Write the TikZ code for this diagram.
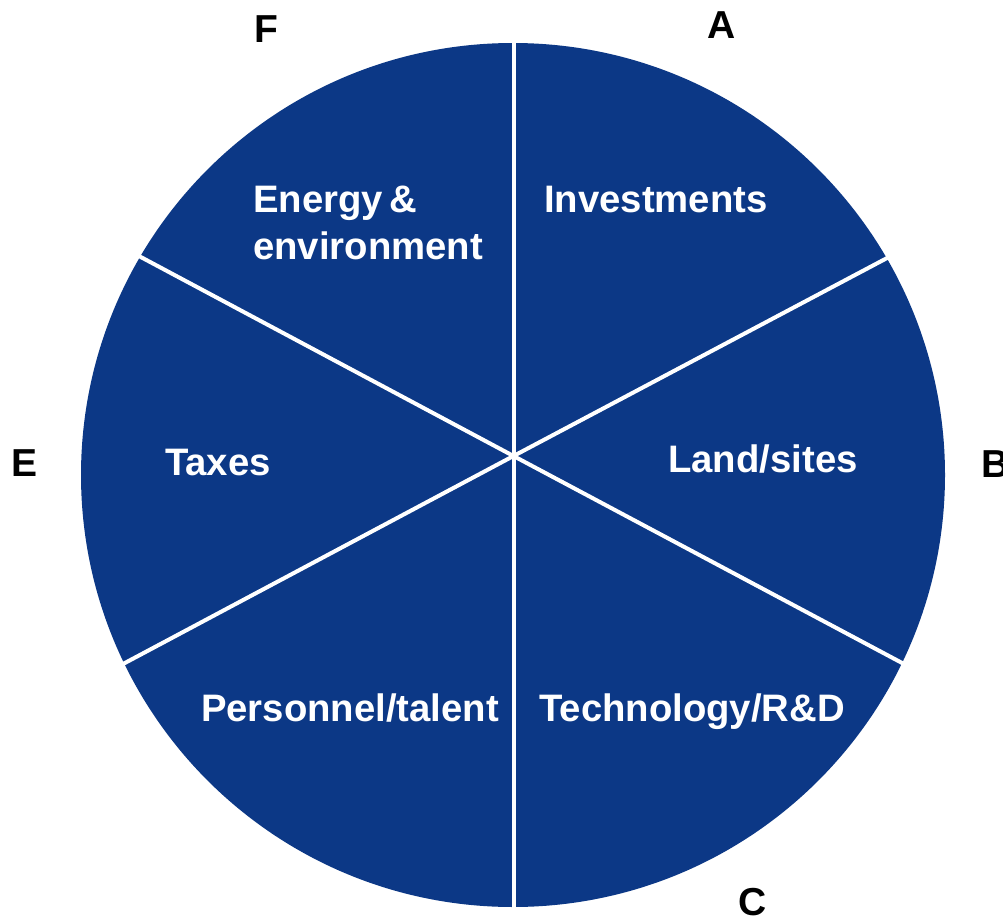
\documentclass[tikz,border=0pt]{standalone}
\usepackage{fontspec}
\setmainfont{Liberation Sans}
\definecolor{pieblue}{RGB}{12,56,134}
\tikzset{
  seglabel/.style={text=white, font=\fontsize{38.3}{46.5}\selectfont\bfseries, inner sep=0pt, anchor=base},
  letter/.style={text=black, font=\fontsize{39}{46}\selectfont\bfseries, inner sep=0pt, anchor=base},
  divider/.style={draw=white, line width=4pt}
}
\begin{document}
\begin{tikzpicture}[x=1pt,y=-1pt]
\useasboundingbox (0,0) rectangle (1003,917);
% pie
\fill[pieblue] (513,475) circle (432);
\coordinate (ctr) at (513.5,456);
\coordinate (top) at (513.5,40);
\coordinate (bot) at (513.5,910);
\coordinate (ul) at (137,255);
\coordinate (ur) at (889,257);
\coordinate (ll) at (123,664);
\coordinate (lr) at (904,664);
\draw[divider] (top) -- (ctr) -- (bot);
\draw[divider] (ul) -- (ctr) -- (lr);
\draw[divider] (ur) -- (ctr) -- (ll);
% segment labels
\node[seglabel] (inv) at (656,213) {Investments};
\node[seglabel, anchor=base west] (en1) at (253,213) {Energy\,\&};
\node[seglabel, anchor=base west] (en2) at (253,259) {environment};
\node[seglabel] (land) at (763,472) {Land/sites};
\node[seglabel] (tax) at (218,475) {Taxes};
\node[seglabel] (pers) at (350,721) {Personnel/talent};
\node[seglabel] (tech) at (692,721) {Technology/R\&D};
% letters
\node[letter] (A) at (722,39) {A};
\node[letter] (F) at (266,43) {F};
\node[letter] (E) at (25,476) {E};
\node[letter, anchor=base west] (B) at (981,477) {B};
\node[letter] (C) at (753,915) {C};
\end{tikzpicture}
\end{document}
